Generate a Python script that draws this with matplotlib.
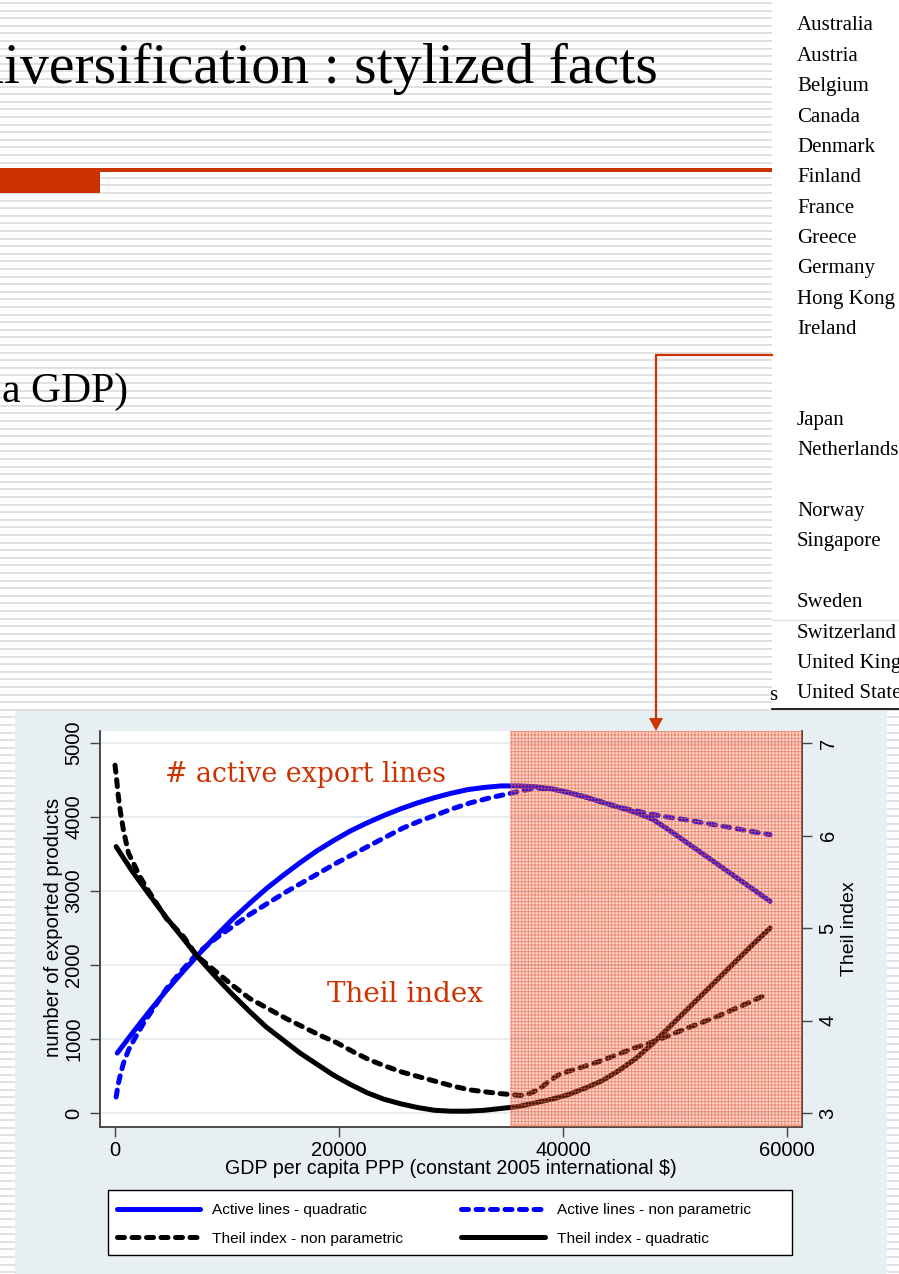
import numpy as np
import matplotlib.pyplot as plt
from matplotlib.patches import Rectangle, Polygon

plt.rcParams['font.family'] = 'Liberation Sans'
plt.rcParams['hatch.linewidth'] = 0.7

W, H = 899, 1274

# --- data ---
gdp_active_quad = [200, 1500, 3000, 4500, 6000, 7500, 9000, 10500, 12000, 13500, 15000,
                   16500, 18000, 19500, 21000, 22500, 24000, 25500, 27000, 28500, 30000,
                   31500, 33000, 34500, 36000, 37500, 39000, 40500, 42000, 43500, 45000,
                   46500, 48000, 49500, 51000, 52500, 54000, 55500, 57000, 58500]
active_quad = [810, 1070, 1360, 1640, 1900, 2150, 2390, 2620, 2830, 3030, 3210,
               3380, 3540, 3680, 3810, 3920, 4020, 4110, 4190, 4260, 4320,
               4370, 4400, 4420, 4420, 4410, 4380, 4330, 4270, 4200, 4130,
               4060, 3970, 3820, 3660, 3500, 3340, 3180, 3020, 2860]

gdp_active_np = [100, 300, 500, 750, 1200, 1700, 2500, 3500, 4600, 6000, 7300, 9000,
                 10500, 12000, 13800, 15300, 16800, 18300, 19800, 21300, 22800, 24300,
                 25700, 27200, 28700, 30200, 31700, 33500, 35300, 36500, 37500, 39000,
                 40500, 42000, 43500, 45000, 46300, 47800, 49300, 50800, 52200, 53700,
                 55200, 56800, 58500]
active_np = [216, 400, 530, 670, 850, 990, 1200, 1430, 1680, 1930, 2150, 2360,
             2520, 2680, 2850, 2990, 3120, 3250, 3380, 3500, 3620, 3740,
             3850, 3945, 4030, 4115, 4190, 4260, 4320, 4360, 4390, 4380,
             4330, 4270, 4200, 4130, 4090, 4040, 4000, 3965, 3930, 3890,
             3850, 3805, 3760]

gdp_theil_np = [0, 150, 300, 500, 750, 1200, 1650, 2250, 3100, 4600, 6100, 7300, 8800,
                10500, 12000, 13800, 15300, 16800, 18300, 19800, 21300, 22800, 24300,
                25700, 27200, 28700, 30200, 31700, 33000, 34400, 35300, 36200, 37000,
                37900, 38800, 39700, 40700, 41800, 43300, 44800, 46300, 47800, 49300,
                50700, 52200, 53700, 55200, 56700, 58300]
theil_np = [6.76, 6.60, 6.42, 6.24, 6.06, 5.81, 5.70, 5.55, 5.38, 5.10, 4.91, 4.70, 4.55,
            4.38, 4.24, 4.12, 4.02, 3.93, 3.84, 3.76, 3.66, 3.57, 3.50,
            3.44, 3.39, 3.34, 3.29, 3.25, 3.23, 3.21, 3.20, 3.19, 3.21,
            3.26, 3.35, 3.42, 3.46, 3.50, 3.56, 3.63, 3.70, 3.76, 3.83,
            3.90, 3.97, 4.04, 4.12, 4.20, 4.29]

gdp_theil_quad = [100, 1500, 3000, 4600, 6000, 7300, 9000, 10500, 12000, 13500, 15000,
                  16500, 18000, 19500, 21000, 22500, 24000, 25500, 27000, 28500, 30000,
                  31500, 33000, 34500, 36000, 37500, 39000, 40500, 42000, 43500, 45000,
                  46500, 48000, 49500, 51000, 52500, 54000, 55500, 57000, 58500]
theil_quad = [5.88, 5.62, 5.37, 5.11, 4.90, 4.70, 4.47, 4.28, 4.10, 3.93, 3.79,
              3.65, 3.53, 3.41, 3.31, 3.22, 3.15, 3.10, 3.06, 3.03, 3.02,
              3.02, 3.03, 3.05, 3.07, 3.11, 3.15, 3.20, 3.27, 3.35, 3.46,
              3.59, 3.75, 3.93, 4.11, 4.29, 4.47, 4.65, 4.83, 5.00]

rich_threshold = 35300

countries = ['Australia', 'Austria', 'Belgium', 'Canada', 'Denmark', 'Finland', 'France',
             'Greece', 'Germany', 'Hong Kong', 'Ireland', '', '', 'Japan', 'Netherlands', '',
             'Norway', 'Singapore', '', 'Sweden', 'Switzerland', 'United Kingdom',
             'United States']

legend_labels = ['Active lines - quadratic', 'Theil index - non parametric',
                 'Active lines - non parametric', 'Theil index - quadratic']

RED = '#cc3300'

fig = plt.figure(figsize=(W / 100, H / 100), dpi=100)

# slide background in pixel coordinates
bg = fig.add_axes([0, 0, 1, 1])
bg.set_xlim(0, W)
bg.set_ylim(H, 0)
bg.axis('off')
bg.hlines(np.arange(3, H, 7.6), 0, W, color='#e1e1e1', lw=1.4, zorder=0)

# title bar
bg.text(658, 83, 'diversification : stylized facts', family='Liberation Serif',
        fontsize=41.6, ha='right', va='baseline', color='black')
bg.add_patch(Rectangle((0, 168), 772, 4, color=RED, lw=0))
bg.add_patch(Rectangle((0, 172), 100, 21, color=RED, lw=0))
bg.text(128, 402, 'a GDP)', family='Liberation Serif', fontsize=30,
        ha='right', va='baseline', color='black')

# country list panel
bg.add_patch(Rectangle((772, 0), W - 772, 708, color='white', lw=0, zorder=1))
for i, name in enumerate(countries):
    bg.text(797, 26 + i * 30.35, name, family='Liberation Serif', fontsize=15,
            ha='left', va='center', zorder=2)
bg.text(777, 695, 's', family='Liberation Serif', fontsize=15, ha='right', va='center',
        zorder=2)
bg.plot([772, W], [620, 620], color='#dddddd', lw=0.8, zorder=2)
bg.plot([772, W], [708.5, 708.5], color='black', lw=1.2, zorder=2)

# connector arrow
bg.plot([772, 656, 656], [355, 355, 720], color=RED, lw=1.6, zorder=3,
        solid_joinstyle='miter')
bg.add_patch(Polygon([(649, 718), (663, 718), (656, 731)], closed=True, color=RED, lw=0,
                     zorder=3))

# chart panel
bg.add_patch(Rectangle((15, 711), 872, H - 711, color='#e8eff2', lw=0, zorder=2))
bg.add_patch(Rectangle((108, 1190), 684, 65, facecolor='white', edgecolor='black',
                       lw=1.0, zorder=3))

# main chart
ax = fig.add_axes([100 / W, 1 - 1127 / H, 701.6 / W, 396 / H])
ax.set_facecolor('white')
ax.set_xlim(-1340, 61300)
ax.set_ylim(-189, 5162)
ax2 = ax.twinx()
ax2.set_ylim(2.849, 7.130)

dash = (0, (1.4, 1.5))
h1, = ax.plot(gdp_active_quad, active_quad, color='#0000ff', lw=3.6,
              solid_capstyle='round', solid_joinstyle='round', zorder=4)
h3, = ax.plot(gdp_active_np, active_np, color='#0000ff', lw=3.6, linestyle=dash,
              dash_capstyle='round', zorder=4)
h2, = ax2.plot(gdp_theil_np, theil_np, color='black', lw=3.6, linestyle=dash,
               dash_capstyle='round', zorder=4)
h4, = ax2.plot(gdp_theil_quad, theil_quad, color='black', lw=3.6,
               solid_capstyle='round', solid_joinstyle='round', zorder=4)

# shaded "rich countries" region, drawn over the curves
ax2.axvspan(rich_threshold, 61300, facecolor=(1.0, 0.35, 0.2), alpha=0.22, lw=0,
            zorder=10)
ax2.axvspan(rich_threshold, 61300, facecolor='none', edgecolor=(0.9, 0.35, 0.2, 0.6),
            hatch='+++++', lw=0, zorder=11)

ax.set_xticks([0, 20000, 40000, 60000])
ax.set_yticks([0, 1000, 2000, 3000, 4000, 5000])
ax2.set_yticks([3, 4, 5, 6, 7])
ax.yaxis.grid(True, color='#e4edf0', lw=1.3)
ax.set_axisbelow(True)

for a in (ax, ax2):
    a.spines['top'].set_visible(False)
    for s in ('left', 'right', 'bottom'):
        a.spines[s].set_color('#444444')
        a.spines[s].set_linewidth(1.1)
ax.tick_params(axis='both', length=7.2, width=1, color='#444444', labelsize=14.5)
ax.tick_params(axis='x', pad=3)
ax.tick_params(axis='y', labelrotation=90, pad=5)
ax2.tick_params(axis='y', length=7.2, width=1, color='#444444', labelsize=14.5,
                labelrotation=90, pad=5)
for lab in ax.get_yticklabels() + ax2.get_yticklabels():
    lab.set_va('center')

bg.text(54, 927, 'number of exported products', rotation=90, ha='center', va='center',
        fontsize=14.6, zorder=5)
bg.text(849, 929, 'Theil index', rotation=90, ha='center', va='center', fontsize=14,
        zorder=5)
bg.text(451, 1169, 'GDP per capita PPP (constant 2005 international $)', ha='center',
        va='center', fontsize=14.1, zorder=5)

fig.text(165 / W, 1 - 774 / H, '# active export lines', family='DejaVu Serif',
         fontsize=19.3, color=RED, ha='left', va='center', zorder=20)
fig.text(327 / W, 1 - 995 / H, 'Theil index', family='DejaVu Serif', fontsize=20,
         color=RED, ha='left', va='center', zorder=20)

ax2.legend([h1, h2, h3, h4], legend_labels, ncol=2, loc='upper left',
           bbox_to_anchor=(117 / W, 1 - 1203 / H), bbox_transform=fig.transFigure,
           frameon=False, fontsize=11.1, handlelength=5.4, handletextpad=0.78,
           columnspacing=3.77, labelspacing=0.95, borderpad=0, borderaxespad=0)

fig.savefig('out.png', dpi=100)
